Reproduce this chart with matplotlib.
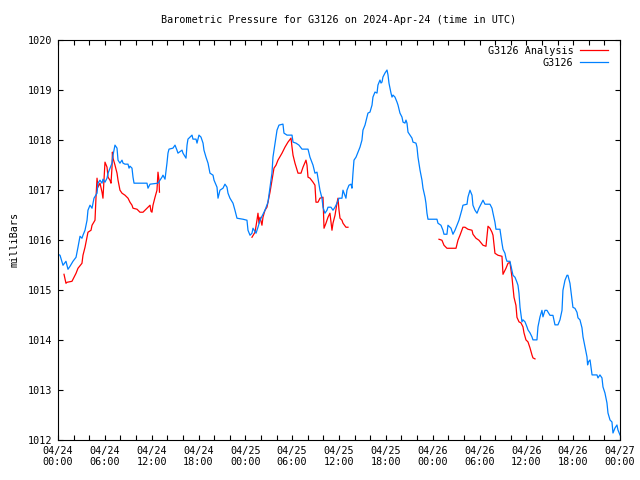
import numpy as np
import matplotlib
matplotlib.use("Agg")
import matplotlib.pyplot as plt
from matplotlib.ticker import MultipleLocator, FixedLocator, FixedFormatter

# hours since 2024-04-24 00:00 UTC, pressure in mb
obs_hours = [
    0.00, 0.26, 0.64, 1.02, 1.28, 1.54, 1.92, 2.31, 2.56, 2.82, 3.07, 3.20, 3.46, 3.72, 3.84,
    4.10, 4.36, 4.61, 5.00, 5.12, 5.38, 5.64, 5.76, 6.02, 6.28, 6.41, 6.66, 6.92, 7.05, 7.30,
    7.56, 7.69, 7.94, 8.20, 8.33, 8.58, 8.97, 9.10, 9.22, 9.48, 9.61, 9.74, 10.25, 11.40, 11.53,
    11.79, 12.81, 13.07, 13.32, 13.45, 13.71, 13.96, 14.09, 14.22, 14.73, 14.99, 15.24, 15.37,
    15.89, 16.01, 16.40, 16.53, 16.65, 16.91, 17.17, 17.29, 17.68, 17.81, 18.06, 18.32, 18.58,
    18.70, 18.96, 19.22, 19.47, 19.86, 19.99, 20.37, 20.50, 20.75, 21.14, 21.39, 21.65, 21.78,
    22.03, 22.42, 22.67, 22.93, 23.70, 24.21, 24.34, 24.60, 24.85, 24.98, 25.37, 25.62, 25.88,
    26.52, 26.90, 27.41, 27.54, 27.93, 28.06, 28.31, 28.82, 28.95, 29.34, 29.98, 30.11, 30.49,
    30.87, 31.26, 32.03, 32.28, 32.67, 32.92, 33.18, 33.31, 33.56, 33.82, 33.95, 34.20, 34.46,
    34.59, 34.97, 35.23, 35.49, 35.74, 36.00, 36.38, 36.51, 36.89, 37.02, 37.28, 37.54, 37.66,
    37.79, 37.92, 38.18, 38.43, 38.69, 38.94, 39.07, 39.33, 39.59, 39.71, 39.97, 40.23, 40.35,
    40.61, 40.87, 40.99, 41.25, 41.38, 41.51, 41.63, 41.89, 42.15, 42.28, 42.40, 42.66, 42.79,
    42.92, 43.17, 43.43, 43.56, 43.81, 44.07, 44.20, 44.45, 44.58, 44.71, 44.84, 45.09, 45.35,
    45.48, 45.86, 45.99, 46.12, 46.38, 46.63, 46.76, 47.02, 47.14, 47.27, 47.40, 48.55, 48.68,
    49.06, 49.32, 49.45, 49.83, 49.96, 50.35, 50.60, 50.86, 51.11, 51.37, 51.76, 51.88, 52.40,
    52.52, 52.78, 53.04, 53.16, 53.42, 53.68, 53.93, 54.32, 54.45, 54.70, 55.34, 55.60, 55.73,
    55.98, 56.11, 56.62, 56.88, 57.01, 57.26, 57.39, 57.52, 57.90, 58.16, 58.29, 58.55, 58.80,
    58.93, 59.06, 59.19, 59.44, 59.57, 59.83, 60.08, 60.21, 60.47, 60.72, 60.85, 61.36, 61.49,
    61.75, 62.00, 62.13, 62.39, 62.64, 63.03, 63.41, 63.67, 64.05, 64.31, 64.57, 64.69, 64.95,
    65.21, 65.33, 65.59, 65.85, 65.97, 66.23, 66.49, 66.62, 66.87, 67.13, 67.26, 67.51, 67.77,
    67.85, 67.95, 68.16, 68.42, 69.05, 69.18, 69.43, 69.69, 69.82, 70.07, 70.33, 70.46, 70.72,
    70.97, 71.10, 71.36, 71.61, 71.74, 72.00,
]
obs_mb = [
    1015.71, 1015.69, 1015.49, 1015.57, 1015.41, 1015.47, 1015.57, 1015.65, 1015.85, 1016.07,
    1016.03, 1016.09, 1016.19, 1016.39, 1016.59, 1016.69, 1016.63, 1016.83, 1016.93, 1017.13,
    1017.19, 1017.13, 1017.21, 1017.15, 1017.23, 1017.33, 1017.43, 1017.53, 1017.69, 1017.89,
    1017.83, 1017.59, 1017.53, 1017.59, 1017.53, 1017.51, 1017.51, 1017.43, 1017.47, 1017.43,
    1017.25, 1017.13, 1017.13, 1017.13, 1017.03, 1017.11, 1017.13, 1017.19, 1017.25, 1017.29,
    1017.21, 1017.53, 1017.73, 1017.81, 1017.83, 1017.89, 1017.79, 1017.73, 1017.79, 1017.73,
    1017.63, 1017.89, 1018.01, 1018.05, 1018.09, 1018.01, 1018.01, 1017.93, 1018.09, 1018.05,
    1017.93, 1017.79, 1017.65, 1017.53, 1017.33, 1017.29, 1017.19, 1017.05, 1016.83, 1016.99,
    1017.03, 1017.11, 1017.05, 1016.93, 1016.83, 1016.73, 1016.59, 1016.43, 1016.41, 1016.39,
    1016.19, 1016.09, 1016.13, 1016.23, 1016.13, 1016.25, 1016.39, 1016.59, 1016.75, 1017.33,
    1017.65, 1018.05, 1018.19, 1018.29, 1018.31, 1018.13, 1018.09, 1018.09, 1017.95, 1017.93,
    1017.89, 1017.81, 1017.81, 1017.65, 1017.49, 1017.33, 1017.35, 1017.23, 1016.99, 1016.83,
    1016.65, 1016.53, 1016.59, 1016.65, 1016.65, 1016.59, 1016.65, 1016.73, 1016.83, 1016.83,
    1016.99, 1016.83, 1016.99, 1017.09, 1017.11, 1017.03, 1017.33, 1017.59, 1017.65, 1017.75,
    1017.85, 1017.99, 1018.19, 1018.29, 1018.45, 1018.53, 1018.55, 1018.69, 1018.85, 1018.95,
    1018.93, 1019.09, 1019.19, 1019.13, 1019.15, 1019.25, 1019.33, 1019.39, 1019.29, 1019.13,
    1018.93, 1018.85, 1018.89, 1018.85, 1018.75, 1018.69, 1018.53, 1018.45, 1018.35, 1018.33,
    1018.39, 1018.33, 1018.15, 1018.09, 1018.03, 1017.95, 1017.93, 1017.85, 1017.65, 1017.39,
    1017.19, 1017.03, 1016.85, 1016.73, 1016.53, 1016.41, 1016.41, 1016.33, 1016.29, 1016.19,
    1016.11, 1016.11, 1016.29, 1016.23, 1016.11, 1016.19, 1016.29, 1016.39, 1016.61, 1016.69,
    1016.71, 1016.85, 1016.99, 1016.89, 1016.69, 1016.59, 1016.53, 1016.63, 1016.75, 1016.79,
    1016.71, 1016.71, 1016.63, 1016.53, 1016.35, 1016.21, 1016.21, 1015.93, 1015.81, 1015.73,
    1015.63, 1015.57, 1015.57, 1015.39, 1015.29, 1015.25, 1015.15, 1015.09, 1014.93, 1014.65,
    1014.36, 1014.40, 1014.36, 1014.26, 1014.20, 1014.14, 1014.06, 1014.00, 1014.00, 1014.26,
    1014.46, 1014.59, 1014.46, 1014.59, 1014.59, 1014.49, 1014.49, 1014.30, 1014.30, 1014.40,
    1014.59, 1014.99, 1015.19, 1015.29, 1015.29, 1015.13, 1014.79, 1014.65, 1014.63, 1014.55,
    1014.44, 1014.40, 1014.24, 1014.06, 1013.86, 1013.66, 1013.50, 1013.56, 1013.60, 1013.30,
    1013.30, 1013.24, 1013.30, 1013.24, 1013.06, 1012.94, 1012.74, 1012.54, 1012.40, 1012.36,
    1012.14, 1012.24, 1012.30, 1012.20, 1012.10,
]

# analysis series, gaps (nan) where no analysis was available
ana_hours = [
    0.77, 1.02, 1.15, 1.79, 1.92, 2.31, 2.56, 3.07, 3.20, 3.46, 3.72, 3.84, 4.23, 4.36, 4.74,
    4.87, 5.00, 5.12, 5.38, 5.64, 5.76, 5.89, 6.02, 6.28, 6.41, 6.66, 6.79, 6.92, 6.97, 7.05,
    7.30, 7.56, 7.69, 7.94, 8.20, 8.58, 8.84, 8.97, 9.22, 9.48, 9.61, 10.12, 10.50, 10.89,
    11.40, 11.79, 11.91, 12.04, 12.17, 12.43, 12.68, 12.81, 12.94, 13.00,
    18.0,
    24.85, 25.24, 25.49, 25.62, 25.75, 25.88, 26.13, 26.26, 26.52, 26.77, 26.90, 27.16, 27.41,
    27.67, 27.93, 28.18, 28.70, 29.08, 29.46, 29.85, 29.98, 30.11, 30.36, 30.75, 31.13, 31.39,
    31.77, 31.90, 32.03, 32.28, 32.67, 32.92, 33.05, 33.31, 33.56, 33.95, 34.08, 34.33, 34.59,
    34.84, 35.10, 35.23, 35.49, 35.74, 35.87, 36.00, 36.13, 36.38, 36.51, 36.89, 37.15,
    42.0,
    48.81, 49.19, 49.45, 49.83, 50.99, 51.24, 51.50, 51.88, 52.14, 52.52, 53.04, 53.16, 53.55,
    53.93, 54.45, 54.83, 55.09, 55.34, 55.60, 55.73, 55.98, 56.37, 56.88, 57.01, 57.39, 57.65,
    57.90, 58.16, 58.29, 58.42, 58.67, 58.80, 59.06, 59.31, 59.57, 59.70, 59.95, 60.21, 60.47,
    60.72, 60.85, 61.11,
]
ana_mb = [
    1015.31, 1015.13, 1015.15, 1015.17, 1015.21, 1015.33, 1015.43, 1015.53, 1015.69, 1015.85,
    1016.05, 1016.15, 1016.19, 1016.29, 1016.39, 1016.85, 1017.23, 1017.05, 1017.13, 1016.95,
    1016.83, 1017.19, 1017.55, 1017.45, 1017.25, 1017.19, 1017.13, 1017.45, 1017.75, 1017.63,
    1017.49, 1017.33, 1017.19, 1016.99, 1016.93, 1016.89, 1016.85, 1016.83, 1016.75, 1016.69,
    1016.63, 1016.61, 1016.55, 1016.55, 1016.63, 1016.69, 1016.57, 1016.55, 1016.69, 1016.85,
    1016.99, 1017.35, 1017.19, 1016.95,
    np.nan,
    1016.05, 1016.15, 1016.39, 1016.53, 1016.33, 1016.45, 1016.29, 1016.45, 1016.59, 1016.65,
    1016.75, 1016.95, 1017.19, 1017.43, 1017.49, 1017.59, 1017.73, 1017.85, 1017.95, 1018.03,
    1017.85, 1017.69, 1017.53, 1017.33, 1017.33, 1017.45, 1017.59, 1017.49, 1017.25, 1017.23,
    1017.15, 1017.09, 1016.75, 1016.75, 1016.83, 1016.85, 1016.23, 1016.33, 1016.45, 1016.53,
    1016.19, 1016.33, 1016.49, 1016.73, 1016.83, 1016.59, 1016.43, 1016.39, 1016.33, 1016.25,
    1016.25,
    np.nan,
    1016.01, 1015.99, 1015.89, 1015.83, 1015.83, 1015.99, 1016.09, 1016.25, 1016.25, 1016.21,
    1016.19, 1016.11, 1016.03, 1015.99, 1015.89, 1015.87, 1016.27, 1016.23, 1016.15, 1016.09,
    1015.73, 1015.69, 1015.67, 1015.31, 1015.43, 1015.53, 1015.55, 1015.25, 1015.05, 1014.85,
    1014.69, 1014.45, 1014.36, 1014.34, 1014.26, 1014.14, 1014.00, 1013.96, 1013.84, 1013.70,
    1013.64, 1013.62,
]

tick_hours = [0, 6, 12, 18, 24, 30, 36, 42, 48, 54, 60, 66, 72]
tick_labels = ["04/24\n00:00", "04/24\n06:00", "04/24\n12:00", "04/24\n18:00",
               "04/25\n00:00", "04/25\n06:00", "04/25\n12:00", "04/25\n18:00",
               "04/26\n00:00", "04/26\n06:00", "04/26\n12:00", "04/26\n18:00",
               "04/27\n00:00"]

plt.rcParams['font.family'] = ['DejaVu Sans Mono']
plt.rcParams['font.size'] = 7

fig = plt.figure(figsize=(6.4, 4.8), dpi=100)
ax = fig.add_axes([58/640, 40/480, 562/640, 400.5/480])

ax.plot(ana_hours, ana_mb, color="#ff0000", lw=0.9, label="G3126 Analysis")
ax.plot(obs_hours, obs_mb, color="#0080ff", lw=0.9, label="G3126")

ax.set_xlim(0, 72)
ax.set_ylim(1012, 1020)
ax.xaxis.set_major_locator(FixedLocator(tick_hours))
ax.xaxis.set_major_formatter(FixedFormatter(tick_labels))
ax.xaxis.set_minor_locator(MultipleLocator(2))
ax.yaxis.set_major_locator(MultipleLocator(1))
ax.tick_params(which="both", direction="in", top=True, right=True,
               length=3.5, width=0.8, labelsize=7.3, pad=4)

for s in ax.spines.values():
    s.set_linewidth(0.8)

ax.set_title("Barometric Pressure for G3126 on 2024-Apr-24 (time in UTC)",
             fontsize=7.3, pad=12)
ax.set_ylabel("milliBars", fontsize=7.3, labelpad=6)

ax.legend(loc="upper right", bbox_to_anchor=(1 - 6/562, 1), frameon=False,
          markerfirst=False, fontsize=7.3, handlelength=2.8, handletextpad=0.6,
          labelspacing=0.2, borderaxespad=0.2)
for t in ax.get_legend().get_texts():
    t.set_ha("right")

fig.savefig("out.png", dpi=100)
